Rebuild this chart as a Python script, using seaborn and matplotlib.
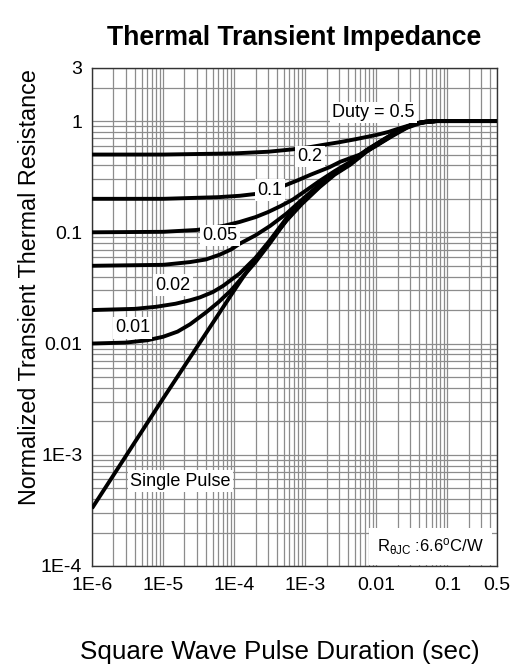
import numpy as np
import pandas as pd
import matplotlib
matplotlib.use("Agg")
import matplotlib.pyplot as plt
import matplotlib.ticker as mticker
import seaborn as sns

# Pulse duration (s) and normalized thermal impedance for each duty cycle
t_d50 = [1e-6, 1e-5, 1e-4, 3e-4, 6.7e-4, 1.2e-3, 1.9e-3, 3e-3, 5e-3, 1.0e-2, 1.5e-2, 2.0e-2, 3.0e-2, 4.2e-2, 5.7e-2, 7.0e-2, 0.5]
z_d50 = [0.50, 0.50, 0.512, 0.53, 0.557, 0.585, 0.615, 0.645, 0.685, 0.75, 0.80, 0.85, 0.92, 0.97, 0.99, 1.0, 1.0]

t_d20 = [1e-6, 1e-5, 6e-5, 1.2e-4, 2.1e-4, 3.2e-4, 4.9e-4, 8e-4, 1.2e-3, 2.2e-3, 3.1e-3, 5.9e-3, 1.0e-2, 1.6e-2, 2.7e-2, 4e-2, 5.5e-2, 7.0e-2, 0.5]
z_d20 = [0.20, 0.20, 0.207, 0.213, 0.222, 0.238, 0.26, 0.295, 0.33, 0.385, 0.43, 0.50, 0.60, 0.72, 0.87, 0.95, 0.99, 1.0, 1.0]

t_d10 = [1e-6, 1e-5, 3e-5, 7e-5, 1.2e-4, 2e-4, 3.0e-4, 4.5e-4, 6.7e-4, 1.0e-3, 1.6e-3, 2.6e-3, 4.3e-3, 7.3e-3, 1.2e-2, 2.2e-2, 3.5e-2, 5.0e-2, 7.0e-2, 0.5]
z_d10 = [0.10, 0.101, 0.105, 0.114, 0.124, 0.137, 0.152, 0.172, 0.197, 0.235, 0.29, 0.355, 0.43, 0.55, 0.67, 0.845, 0.95, 0.99, 1.0, 1.0]

t_d05 = [1e-6, 1e-5, 2.4e-5, 4e-5, 6.3e-5, 9e-5, 1.2e-4, 2e-4, 3.2e-4, 5.5e-4, 9.3e-4, 1.6e-3, 2.6e-3, 4.3e-3, 7.3e-3, 1.2e-2, 2.2e-2, 3.5e-2, 5.0e-2, 7.0e-2, 0.5]
z_d05 = [0.05, 0.051, 0.054, 0.057, 0.063, 0.07, 0.079, 0.094, 0.114, 0.148, 0.20, 0.27, 0.345, 0.42, 0.545, 0.665, 0.84, 0.95, 0.99, 1.0, 1.0]

t_d02 = [1e-6, 4e-6, 8e-6, 1.5e-5, 2.4e-5, 3.3e-5, 5e-5, 7e-5, 1.2e-4, 2.0e-4, 3.2e-4, 5.5e-4, 9e-4, 1.6e-3, 2.6e-3, 4.3e-3, 7.3e-3, 1.2e-2, 2.2e-2, 3.5e-2, 5.0e-2, 7.0e-2, 0.5]
z_d02 = [0.02, 0.0205, 0.0214, 0.0228, 0.0245, 0.026, 0.029, 0.033, 0.0427, 0.059, 0.085, 0.135, 0.19, 0.265, 0.34, 0.415, 0.54, 0.66, 0.835, 0.95, 0.985, 1.0, 1.0]

t_d01 = [1e-6, 3e-6, 6e-6, 1e-5, 1.6e-5, 2.4e-5, 4e-5, 6e-5, 9e-5, 1.2e-4, 2.0e-4, 3.2e-4, 5.5e-4, 9e-4, 1.6e-3, 2.6e-3, 4.3e-3, 7.3e-3, 1.2e-2, 2.2e-2, 3.5e-2, 5.0e-2, 7.0e-2, 0.5]
z_d01 = [0.01, 0.0102, 0.0107, 0.0115, 0.0128, 0.0149, 0.019, 0.0235, 0.030, 0.037, 0.054, 0.08, 0.13, 0.185, 0.26, 0.335, 0.41, 0.535, 0.655, 0.83, 0.95, 0.985, 1.0, 1.0]

t_single = [1e-6, 1e-5, 1e-4, 1.86e-4, 3.2e-4, 5.5e-4, 9e-4, 1.6e-3, 2.6e-3, 4.3e-3, 7.3e-3, 1.2e-2, 2.2e-2, 3.5e-2, 5.0e-2, 7.0e-2, 0.5]
z_single = [3.3e-4, 3.2e-3, 0.03, 0.054, 0.083, 0.128, 0.18, 0.255, 0.33, 0.405, 0.53, 0.65, 0.825, 0.945, 0.98, 1.0, 1.0]

x_ticks = [1e-6, 1e-5, 1e-4, 1e-3, 1e-2, 0.1, 0.5]
x_ticklabels = ["1E-6", "1E-5", "1E-4", "1E-3", "0.01", "0.1", "0.5"]
y_ticks = [1e-4, 1e-3, 1e-2, 0.1, 1, 3]
y_ticklabels = ["1E-4", "1E-3", "0.01", "0.1", "1", "3"]

curve_labels = ["Duty = 0.5", "0.2", "0.1", "0.05", "0.02", "0.01", "Single Pulse"]
label_x = [9.1e-3, 1.17e-3, 3.2e-4, 6.3e-5, 1.39e-5, 3.73e-6, 1.74e-5]
label_y = [1.19, 0.477, 0.24, 0.094, 0.0335, 0.0138, 5.8e-4]

series = [
    ("0.5", t_d50, z_d50), ("0.2", t_d20, z_d20), ("0.1", t_d10, z_d10),
    ("0.05", t_d05, z_d05), ("0.02", t_d02, z_d02), ("0.01", t_d01, z_d01),
    ("single", t_single, z_single),
]
df = pd.concat(
    [pd.DataFrame({"t": t, "z": z, "duty": name}) for name, t, z in series],
    ignore_index=True,
)

sns.set_theme(style="white")
plt.rcParams["font.family"] = ["Liberation Sans", "DejaVu Sans"]
plt.rcParams["text.color"] = "black"
plt.rcParams["axes.labelcolor"] = "black"
plt.rcParams["mathtext.fontset"] = "custom"
plt.rcParams["mathtext.rm"] = "Liberation Sans"
plt.rcParams["mathtext.it"] = "Liberation Sans:italic"
plt.rcParams["mathtext.bf"] = "Liberation Sans:bold"

fig = plt.figure(figsize=(5.2, 6.65), dpi=100)
ax = fig.add_axes([92 / 520, 1 - 566 / 665, 405 / 520, 498 / 665])

ax.set_xscale("log")
ax.set_yscale("log")
ax.set_xlim(1e-6, 0.5)
ax.set_ylim(1e-4, 3)

sns.lineplot(
    data=df, x="t", y="z", hue="duty", units="duty", estimator=None,
    palette=["black"] * len(series), linewidth=2.8, legend=False, ax=ax,
    zorder=3,
)
for line in ax.lines:
    line.set_solid_joinstyle("round")
    line.set_solid_capstyle("butt")

ax.xaxis.set_major_locator(mticker.FixedLocator(x_ticks))
ax.xaxis.set_major_formatter(mticker.FixedFormatter(x_ticklabels))
ax.yaxis.set_major_locator(mticker.FixedLocator(y_ticks))
ax.yaxis.set_major_formatter(mticker.FixedFormatter(y_ticklabels))
ax.xaxis.set_minor_locator(mticker.LogLocator(base=10, subs=np.arange(2, 10)))
ax.yaxis.set_minor_locator(mticker.LogLocator(base=10, subs=np.arange(2, 10)))
ax.xaxis.set_minor_formatter(mticker.NullFormatter())
ax.yaxis.set_minor_formatter(mticker.NullFormatter())

ax.grid(True, which="both", color="#8c8c8c", linewidth=0.9, zorder=1)
ax.tick_params(which="both", length=0, labelsize=14, colors="black")
ax.tick_params(axis="x", pad=8)
ax.tick_params(axis="y", pad=7)
ax.set_xlabel("")
ax.set_ylabel("")
for s in ax.spines.values():
    s.set_color("#333333")
    s.set_linewidth(1.0)
    s.set_visible(True)

for txt, lx, ly in zip(curve_labels, label_x, label_y):
    ax.text(lx, ly, txt, fontsize=13, color="black", ha="center", va="center",
            zorder=4, bbox=dict(facecolor="white", edgecolor="none", pad=1.5))

ax.text(0.058, 1.5e-4, r"R$_{\mathregular{\theta JC}}$ :6.6$^{\mathregular{o}}$C/W",
        fontsize=12, color="black", ha="center", va="center", zorder=4,
        bbox=dict(facecolor="white", edgecolor="none", pad=6))

fig.text(30 / 520, 1 - 287 / 665, "Normalized Transient Thermal Resistance",
         fontsize=16.8, color="black", rotation=90, ha="center", va="center")
fig.text(280 / 520, 1 - 652 / 665, "Square Wave Pulse Duration (sec)",
         fontsize=18.7, color="black", ha="center", va="center")
fig.text(294.5 / 520, 1 - 38 / 665, "Thermal Transient Impedance",
         fontsize=19.2, fontweight="bold", color="black", ha="center", va="center")

fig.savefig("out.png", dpi=100)
